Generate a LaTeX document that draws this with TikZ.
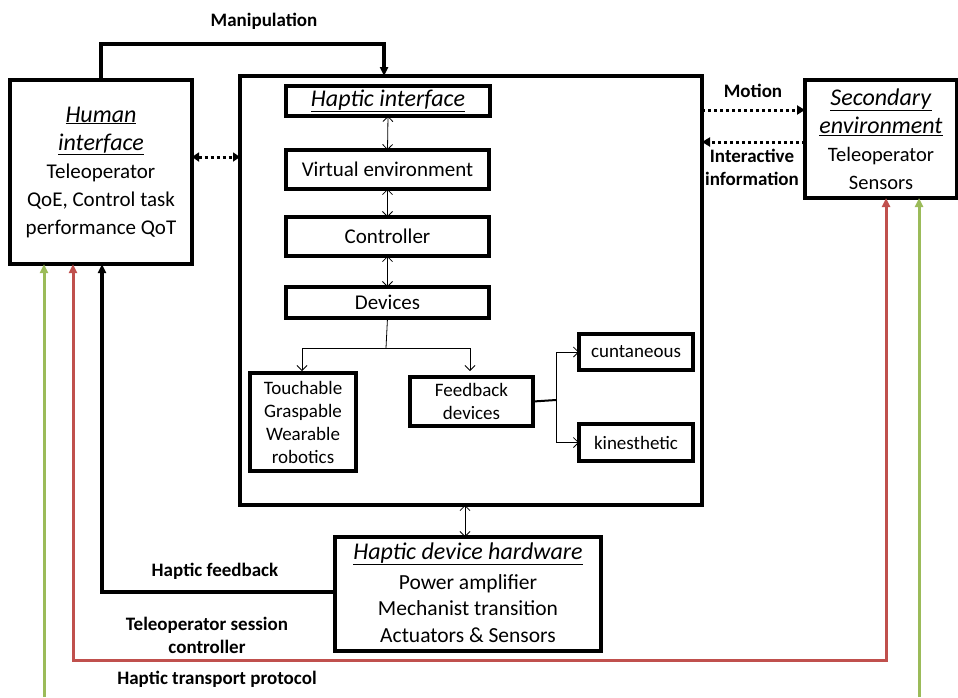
\documentclass[tikz,border=0pt]{standalone}
\usepackage{fontspec}
\setmainfont{Carlito}
\usetikzlibrary{arrows.meta,calc}
\definecolor{linkred}{RGB}{192,80,77}
\definecolor{linkgreen}{RGB}{155,187,89}
\newcommand{\ttl}[1]{{\fontsize{24}{28}\selectfont\underline{\textit{#1}}}}
\begin{document}
\begin{tikzpicture}[x=1pt,y=-1pt,
  blk/.style={draw,line width=3.1pt,inner sep=0pt,outer sep=0pt,align=center},
  bigtxt/.style={font=\fontsize{21}{28}\selectfont},
  midtxt/.style={font=\fontsize{20.5}{28}\selectfont},
  smalltxt/.style={font=\fontsize{19}{23}\selectfont},
  lbl/.style={font=\fontsize{19}{23}\selectfont\bfseries,align=center,inner sep=0pt},
  thinarr/.style={line width=0.8pt,{Straight Barb[length=5pt,width=10pt]}-{Straight Barb[length=5pt,width=10pt]}},
  onearr/.style={line width=0.8pt,-{Straight Barb[length=5pt,width=10pt]}},
  solidarr/.style={line width=3.1pt,-{Triangle[length=9pt,width=8pt]}},
  dotarr/.style={line width=3pt,dash pattern=on 3pt off 3pt},
  tip/.style={-{Triangle[length=8pt,width=9pt]}}]
\useasboundingbox (0,0) rectangle (958,697);

% main boxes
\node[blk,bigtxt,minimum width=182,minimum height=184] (human) at (101,172)
  {\ttl{Human}\\\ttl{interface}\\Teleoperator\\QoE, Control task\\performance QoT};
\node[blk,minimum width=462,minimum height=429] (main) at (471,290.5) {};
\node[blk,midtxt,minimum width=152,minimum height=118] (sec) at (881,139)
  {\ttl{Secondary}\\\ttl{environment}\\Teleoperator\\Sensors};

% haptic interface stack
\node[blk,minimum width=204,minimum height=30] (hi) at (388,101) {\ttl{Haptic interface}};
\node[blk,bigtxt,minimum width=203,minimum height=39] (ve) at (387.5,169.5) {Virtual environment};
\node[blk,bigtxt,minimum width=203,minimum height=39] (ctl) at (387.5,236.5) {Controller};
\node[blk,bigtxt,minimum width=203,minimum height=31] (dev) at (387.5,302.5) {Devices};
\node[blk,smalltxt,minimum width=106,minimum height=98] (touch) at (303,422) {Touchable\\Graspable\\Wearable\\robotics};
\node[blk,smalltxt,minimum width=123,minimum height=49] (fb) at (471.5,401.5) {Feedback\\devices};
\node[blk,smalltxt,minimum width=114,minimum height=36] (cu) at (636,352) {cuntaneous};
\node[blk,smalltxt,minimum width=114,minimum height=37] (kin) at (636,442.5) {kinesthetic};

% hardware box
\node[blk,minimum width=266,minimum height=114] (hw) at (468,594) {};
\node[inner sep=0pt] (hwt) at (468,554) {\ttl{Haptic device hardware}};
\node[font=\fontsize{21.5}{26.5}\selectfont,align=center,inner sep=0pt,anchor=north] (hwb) at (468,574)
  {Power amplifier\\Mechanist transition\\Actuators \& Sensors};

% labels
\node[lbl] (lman) at (264,21) {Manipulation};
\node[lbl] (lmot) at (753,91) {Motion};
\node[lbl] (lint) at (752,167.5) {Interactive\\information};
\node[lbl] (lhf) at (215,571) {Haptic feedback};
\node[lbl] (ltsc) at (207,635.5) {Teleoperator session\\controller};
\node[lbl] (lhtp) at (217,679) {Haptic transport protocol};

% manipulation link
\coordinate (mt) at (384,44);
\draw[solidarr] (human.north) |- (mt) -- (mt |- main.north);

% dotted links
\coordinate (dd) at (0,157);
\coordinate (mo) at (0,110);
\coordinate (ii) at (0,142);
\draw[dotarr,{Triangle[length=7pt,width=9pt]}-{Triangle[length=7pt,width=9pt]}] (human.east |- dd) -- (main.west |- dd);
\draw[dotarr,tip] (main.east |- mo) -- (sec.west |- mo);
\draw[dotarr,tip] (sec.west |- ii) -- (main.east |- ii);

% stack links
\draw[thinarr] (hi.south) -- (ve.north);
\draw[thinarr] (ve.south) -- (ctl.north);
\draw[thinarr] (ctl.south) -- (dev.north);
\coordinate (split) at (386,348);
\draw[line width=0.8pt] (dev.south) -- (split);
\draw[onearr,shorten >=2pt] (split) -| ([xshift=-1pt]touch.north);
\draw[onearr,shorten >=6pt] (split) -| ([xshift=-1.5pt]fb.north);
\coordinate (br) at (556,400);
\draw[line width=2pt] (fb.east) -- (br);
\draw[onearr] (br) |- (cu.west);
\draw[onearr] (br) |- (kin.west);

% hardware link
\draw[thinarr] (hw.north -| 465,0) -- (main.south -| 465,0);

% haptic feedback line
\coordinate (hfc) at (102,592);
\draw[solidarr] (hw.west |- hfc) -- (hfc) -- (hfc |- human.south);

% session controller loop
\coordinate (rl) at (73,660);
\coordinate (rr) at (886,660);
\draw[linkred,line width=3pt,{Triangle[length=9pt,width=8pt]}-{Triangle[length=9pt,width=8pt]}]
  (rl |- human.south) -- (rl) -- (rr) -- (rr |- sec.south);

% transport protocol lines
\coordinate (gl) at (44,697);
\coordinate (gr) at (919,697);
\draw[linkgreen,line width=3pt,-{Triangle[length=9pt,width=8pt]}] (gl) -- (gl |- human.south);
\draw[linkgreen,line width=3pt,-{Triangle[length=9pt,width=8pt]}] (gr) -- (gr |- sec.south);
\end{tikzpicture}
\end{document}
